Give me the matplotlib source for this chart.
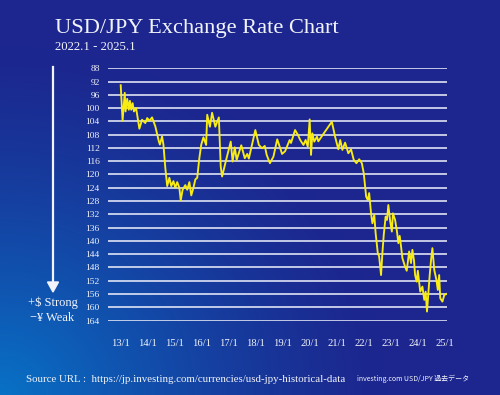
import numpy as np
import matplotlib
matplotlib.use("Agg")
import matplotlib.pyplot as plt

# ── Data ─────────────────────────────────────────────────────────────────────

years = [
    2013.00, 2013.07, 2013.15, 2013.18, 2013.24, 2013.30, 2013.34, 2013.39, 2013.44, 2013.49,
    2013.57, 2013.69, 2013.79, 2013.91, 2013.98, 2014.06, 2014.16, 2014.28, 2014.41, 2014.45,
    2014.53, 2014.58, 2014.65, 2014.72, 2014.80, 2014.87, 2014.95, 2015.02, 2015.09, 2015.17,
    2015.22, 2015.29, 2015.39, 2015.46, 2015.54, 2015.61, 2015.69, 2015.76, 2015.83, 2015.91,
    2015.98, 2016.06, 2016.16, 2016.20, 2016.30, 2016.38, 2016.50, 2016.63, 2016.70, 2016.75,
    2016.90, 2017.07, 2017.14, 2017.22, 2017.29, 2017.46, 2017.59, 2017.68, 2017.74, 2017.98,
    2018.11, 2018.23, 2018.33, 2018.40, 2018.52, 2018.65, 2018.79, 2018.97, 2019.08, 2019.25,
    2019.30, 2019.45, 2019.55, 2019.64, 2019.76, 2019.84, 2019.92, 2019.99, 2020.04, 2020.09,
    2020.16, 2020.26, 2020.31, 2020.81, 2020.93, 2021.05, 2021.12, 2021.20, 2021.30, 2021.42,
    2021.52, 2021.62, 2021.72, 2021.82, 2021.92, 2021.99, 2022.08, 2022.14, 2022.19, 2022.26,
    2022.31, 2022.38, 2022.43, 2022.51, 2022.56, 2022.63, 2022.68, 2022.73, 2022.80, 2022.85,
    2022.90, 2022.97, 2023.03, 2023.07, 2023.15, 2023.22, 2023.27, 2023.32, 2023.37, 2023.42,
    2023.52, 2023.58, 2023.67, 2023.74, 2023.79, 2023.85, 2023.89, 2023.95, 2023.99, 2024.08,
    2024.16, 2024.23, 2024.28, 2024.33, 2024.38, 2024.43, 2024.48, 2024.53, 2024.60, 2024.68,
    2024.73, 2024.78, 2024.82, 2024.90, 2024.97, 2025.05,
]
rates = [
    93.1, 103.8, 95.4, 101.0, 97.2, 100.5, 97.8, 100.5, 98.5, 101.0,
    100.0, 106.2, 103.5, 104.5, 103.0, 103.8, 102.8, 105.5, 110.0, 111.0,
    108.5, 111.0, 118.0, 123.5, 121.0, 123.5, 122.0, 124.0, 122.3, 124.0,
    127.8, 124.6, 123.2, 124.6, 122.3, 126.3, 124.0, 121.5, 121.0, 115.0,
    111.0, 108.8, 111.1, 102.0, 105.6, 101.4, 105.6, 102.8, 117.6, 120.6,
    115.6, 110.1, 116.1, 111.8, 115.6, 111.2, 115.1, 113.8, 115.2, 106.6,
    111.1, 112.1, 111.4, 114.1, 116.6, 114.6, 109.4, 113.8, 113.0, 109.6,
    110.5, 106.6, 108.0, 109.6, 111.1, 109.6, 111.6, 103.4, 114.1, 107.6,
    110.1, 108.6, 110.0, 104.1, 108.6, 112.4, 109.6, 112.6, 110.4, 113.6,
    112.4, 115.6, 116.6, 115.4, 116.6, 119.6, 126.7, 127.7, 125.6, 131.7,
    134.7, 132.2, 137.7, 143.7, 144.7, 150.3, 143.7, 138.2, 132.7, 133.7,
    129.2, 134.2, 137.2, 131.7, 133.7, 137.2, 140.7, 138.5, 141.7, 145.2,
    147.8, 149.0, 143.2, 146.7, 142.7, 146.0, 150.3, 152.3, 149.0, 155.3,
    153.8, 157.8, 155.3, 161.3, 155.8, 150.3, 145.8, 142.2, 148.8, 151.8,
    154.8, 150.3, 157.3, 158.3, 156.3, 156.0,
]

y_ticks = list(range(88, 165, 4))
x_ticks = list(range(2013, 2026))
x_labels = [f"{y % 100}/1" for y in x_ticks]

TITLE = "USD/JPY Exchange Rate Chart"
SUBTITLE = "2022.1 - 2025.1"
SOURCE = "Source URL :  https://jp.investing.com/currencies/usd-jpy-historical-data"
SOURCE_NOTE = "investing.com USD/JPY 過去データ"

SERIF = ["Liberation Serif", "DejaVu Serif"]
WHITE = "#f2f4fb"
LINE_COLOR = "#f8ec14"

# ── Figure + gradient background ─────────────────────────────────────────────

W, H = 500, 395
fig = plt.figure(figsize=(W / 100, H / 100), dpi=100)

bg = fig.add_axes([0, 0, 1, 1], zorder=0)
yy, xx = np.mgrid[0:H, 0:W]
d = np.sqrt((xx / 1.1) ** 2 + ((H - yy) * 1.0) ** 2)
w = np.clip(1 - d / 350, 0, 1) ** 1.3
dark = np.array([28, 38, 142]) / 255
light = np.array([8, 114, 198]) / 255
img = dark[None, None, :] * (1 - w[..., None]) + light[None, None, :] * w[..., None]
bg.imshow(img, extent=[0, W, H, 0], aspect="auto")
bg.set_xlim(0, W)
bg.set_ylim(H, 0)
bg.axis("off")

# ── Main axes ────────────────────────────────────────────────────────────────

ax = fig.add_axes([108 / W, 1 - 320.5 / H, (447 - 108) / W, (320.5 - 68.3) / H], zorder=1)
ax.patch.set_alpha(0)
for s in ax.spines.values():
    s.set_visible(False)

ax.plot(years, rates, color=LINE_COLOR, linewidth=1.35, zorder=3)

ax.set_ylim(164, 88)
ax.set_xlim(2012.53, 2025.07)
ax.set_yticks(y_ticks)
ax.set_xticks(x_ticks)
ax.set_xticklabels(x_labels)
ax.grid(axis="y", color="#dfe3f5", linewidth=1.2)
ax.grid(axis="x", visible=False)
ax.tick_params(axis="both", length=0, colors=WHITE)
ax.tick_params(axis="y", pad=6, labelsize=6.8)
ax.tick_params(axis="x", pad=13, labelsize=7.6)
for lbl in ax.get_yticklabels() + ax.get_xticklabels():
    lbl.set_family(SERIF)

# ── Texts ────────────────────────────────────────────────────────────────────

fig.text(55 / W, 1 - 33 / H, TITLE, color=WHITE, fontsize=16.1, family=SERIF,
         ha="left", va="baseline")
fig.text(55 / W, 1 - 50 / H, SUBTITLE, color=WHITE, fontsize=9.2, family=SERIF,
         ha="left", va="baseline")

# downward arrow on the left
fig.add_artist(plt.Line2D([53 / W, 53 / W], [1 - 67 / H, 1 - 284 / H], color=WHITE, linewidth=1.6))
fig.add_artist(plt.Polygon([[47.5 / W, 1 - 282 / H], [58.5 / W, 1 - 282 / H], [53 / W, 1 - 292 / H]],
                           closed=True, color=WHITE, transform=fig.transFigure))

fig.text(78 / W, 1 - 303 / H, "+$ Strong", color=WHITE, fontsize=9, family=SERIF,
         ha="right", va="center")
fig.text(74 / W, 1 - 318 / H, "\u2212\u00a5 Weak", color=WHITE, fontsize=9, family=SERIF,
         ha="right", va="center")

fig.text(26 / W, 1 - 380 / H, SOURCE, color=WHITE, fontsize=7.8, family=SERIF,
         ha="left", va="center")
fig.text(357 / W, 1 - 379 / H, SOURCE_NOTE, color=WHITE, fontsize=5.0,
         family=["Noto Sans CJK JP", "DejaVu Sans"], ha="left", va="center")

fig.savefig("out.png", dpi=100)
